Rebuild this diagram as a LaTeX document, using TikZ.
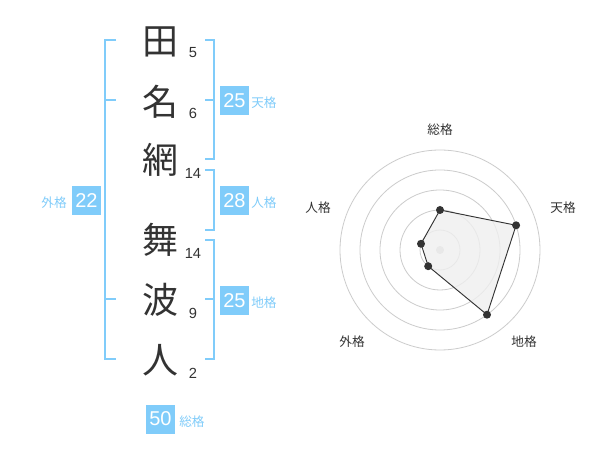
\documentclass[tikz,border=0pt]{standalone}
\usepackage{fontspec}
\setmainfont{Liberation Sans}
\newfontfamily\cjk{Noto Sans CJK JP}
\definecolor{kblue}{HTML}{80CCFA}
\definecolor{kdark}{HTML}{333333}
\definecolor{kring}{HTML}{CCCCCC}
\definecolor{kfill}{HTML}{EFEFEF}
\begin{document}
\begin{tikzpicture}[x=0.75pt,y=-0.75pt,
  kanji/.style={font=\cjk\fontsize{27}{27}\selectfont,text=kdark,inner sep=0pt},
  stroke/.style={font=\fontsize{11}{11}\selectfont,text=kdark,inner sep=0pt},
  kbox/.style={fill=kblue,text=white,minimum width=21.75pt,minimum height=21.75pt,inner sep=0pt,font=\fontsize{15}{15}\selectfont},
  klabel/.style={font=\cjk\fontsize{9.5}{9.5}\selectfont,text=kblue,inner sep=0pt},
  rlabel/.style={font=\cjk\fontsize{9.5}{9.5}\selectfont,text=kdark,inner sep=0pt},
  brk/.style={draw=kblue,line width=1.5pt},
  ring/.style={draw=kring,line width=0.6pt},
  dot/.style={circle,fill=kdark,inner sep=0pt,minimum size=6pt}]
\fill[white] (0,0) rectangle (600,470);
\useasboundingbox (0,0) rectangle (600,470);
% characters
\node[kanji] (c1) at (160,42) {田};
\node[kanji] (c2) at (160,102) {名};
\node[kanji] (c3) at (160,160) {網};
\node[kanji] (c4) at (160,240) {舞};
\node[kanji] (c5) at (160,300) {波};
\node[kanji] (c6) at (160,360) {人};
% stroke counts
\node[stroke] (n1) at (193,53) {5};
\node[stroke] (n2) at (193,113) {6};
\node[stroke] (n3) at (193,173) {14};
\node[stroke] (n4) at (193,253) {14};
\node[stroke] (n5) at (193,313) {9};
\node[stroke] (n6) at (193,373) {2};
% brackets
\draw[brk] (116,40) -- (105,40) -- (105,359) -- (116,359);
\draw[brk] (105,100) -- (116,100);
\draw[brk] (105,299) -- (116,299);
\draw[brk] (205,40) -- (214,40) -- (214,159) -- (205,159);
\draw[brk] (205,100) -- (214,100);
\draw[brk] (205,170) -- (214,170) -- (214,230) -- (205,230);
\draw[brk] (205,240) -- (214,240) -- (214,359) -- (205,359);
\draw[brk] (205,299) -- (214,299);
% boxes
\node[kbox] (b1) at (234.5,100.5) {25};
\node[klabel,anchor=west] (l1) at (251,103) {天格};
\node[kbox] (b2) at (234.5,200.5) {28};
\node[klabel,anchor=west] (l2) at (251,203) {人格};
\node[kbox] (b3) at (234.5,300.5) {25};
\node[klabel,anchor=west] (l3) at (251,303) {地格};
\node[kbox] (b4) at (86.5,200.5) {22};
\node[klabel,anchor=east] (l4) at (67,203) {外格};
\node[kbox] (b5) at (160.5,419) {50};
\node[klabel,anchor=west] (l5) at (179,422) {総格};
% radar
\coordinate (ctr) at (440,250);
\foreach \r in {20,40,60,80,100} \draw[ring] (ctr) circle[radius=\r];
\node[circle,fill=kring,inner sep=0pt,minimum size=6pt] (cd) at (ctr) {};
\coordinate (p1) at (440,210);
\coordinate (p2) at (516.1,225.3);
\coordinate (p3) at (487.0,314.7);
\coordinate (p4) at (428.2,266.2);
\coordinate (p5) at (421.0,243.8);
\filldraw[fill=kfill,fill opacity=0.8,draw=kdark,line width=0.7pt] (p1) -- (p2) -- (p3) -- (p4) -- (p5) -- cycle;
\foreach \p in {p1,p2,p3,p4,p5} \node[dot] at (\p) {};
\node[rlabel] (r1) at (440,130) {総格};
\node[rlabel] (r2) at (563,208) {天格};
\node[rlabel] (r3) at (524,342) {地格};
\node[rlabel] (r4) at (352,342) {外格};
\node[rlabel] (r5) at (318,208) {人格};
\end{tikzpicture}
\end{document}
